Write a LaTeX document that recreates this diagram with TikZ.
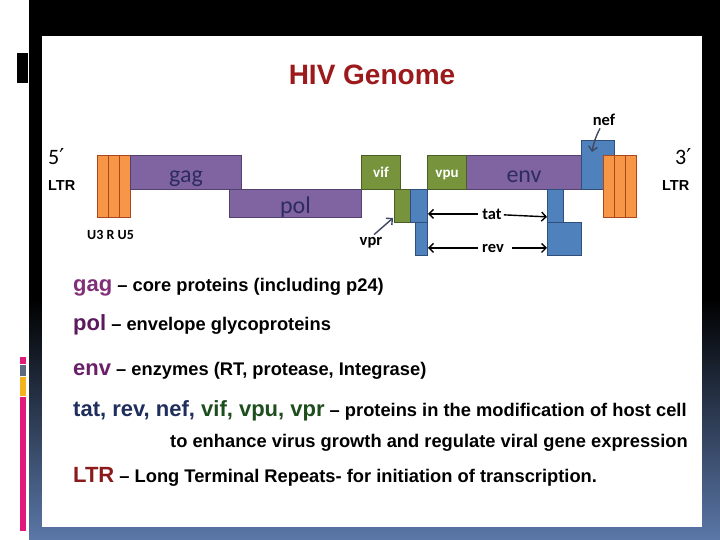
\documentclass[tikz,border=0pt]{standalone}
\usepackage{fontspec}
\setmainfont{Liberation Sans}
\newfontfamily\califont{Carlito}
\newfontfamily\primefont{DejaVu Sans}
\usetikzlibrary{arrows.meta}

\definecolor{genepurple}{HTML}{8064A2}
\definecolor{purpleedge}{HTML}{52406E}
\definecolor{genegreen}{HTML}{77933C}
\definecolor{greenedge}{HTML}{4A5E26}
\definecolor{geneblue}{HTML}{4F81BD}
\definecolor{blueedge}{HTML}{2F4F7A}
\definecolor{ltrorange}{HTML}{F79646}
\definecolor{orangeedge}{HTML}{A9471E}
\definecolor{genetext}{HTML}{2E2B63}
\definecolor{titlered}{HTML}{9C1A1C}
\definecolor{gagcol}{HTML}{80307A}
\definecolor{polcol}{HTML}{5A1A5C}
\definecolor{envcol}{HTML}{6A2068}
\definecolor{navycol}{HTML}{1F2E5C}
\definecolor{greencol}{HTML}{1E4D1E}
\definecolor{ltrcol}{HTML}{8B1A1A}
\definecolor{panelblue}{HTML}{5B78A8}
\definecolor{barpink}{HTML}{E0197B}
\definecolor{bargray}{HTML}{5A6A80}
\definecolor{baryellow}{HTML}{F5B21F}
\definecolor{pointergray}{HTML}{3E4860}

\tikzset{
  gene/.style={draw, line width=1pt, inner sep=0pt, anchor=north west},
  bigsegment/.style={gene, text=genetext, font=\califont\fontsize{24}{24}\selectfont,
    text height=20pt, text depth=0pt},
  smallsegment/.style={gene, text=white, font=\califont\bfseries\fontsize{15}{15}\selectfont,
    text height=11pt, text depth=0pt},
  purplegene/.style={bigsegment, fill=genepurple, draw=purpleedge},
  greengene/.style={smallsegment, fill=genegreen, draw=greenedge},
  bluegene/.style={gene, fill=geneblue, draw=blueedge},
  ltrstripe/.style={gene, fill=ltrorange, draw=orangeedge, minimum width=11pt, minimum height=62pt},
  endmark/.style={anchor=base west, inner sep=0pt, font=\califont\fontsize{22}{22}\selectfont},
  tag/.style={font=\califont\bfseries\fontsize{16.5}{16.5}\selectfont, inner sep=2pt},
  pointer/.style={-{Straight Barb[length=4.5pt,width=9pt]}, line width=1.4pt},
  desc/.style={anchor=base west, inner sep=0pt, font=\bfseries\fontsize{18.3}{22}\selectfont},
}

\begin{document}
\begin{tikzpicture}[x=1pt, y=-1pt]
  \useasboundingbox (0,0) rectangle (720,540);
  %--- Slide frame ---
  \fill[black] (17,53) rectangle (28,83);
  \fill[black] (29,0) rectangle (720,540);
  \shade[top color=black, bottom color=panelblue] (29,300) rectangle (720,540);
  \fill[white] (42,36) rectangle (702,527);
  % colour bars on the left
  \fill[barpink] (20,357) rectangle (26,363.5);
  \fill[bargray] (20,364.5) rectangle (26,376);
  \fill[baryellow] (20,377) rectangle (26,396);
  \fill[barpink] (20,397) rectangle (26,531);

  %--- Title ---
  \node[anchor=base, text=titlered, font=\bfseries\fontsize{28}{30}\selectfont, inner sep=0pt]
    (title) at (372,85) {HIV Genome};

  %--- Genome map ---
  % 5' LTR
  \foreach \i in {0,1,2}
    \node[ltrstripe] (ltra\i) at (97+11*\i,155) {};
  \node[endmark] (fiveend) at (48,165) {5{\primefont\fontsize{22}{22}\selectfont ′}};
  \node[anchor=base west, inner sep=0pt, font=\bfseries\fontsize{14.5}{14.5}\selectfont]
    (ltrleft) at (48,191) {LTR};
  \node[anchor=base west, inner sep=0pt, font=\califont\bfseries\fontsize{14}{14}\selectfont]
    (ltrparts) at (87,240) {U3 R U5};
  % structural genes
  \node[purplegene, minimum width=132pt, minimum height=28pt] (pol) at (229,189) {pol};
  \node[purplegene, minimum width=111pt, minimum height=34pt] (gag) at (130,155) {gag};
  \node[purplegene, minimum width=115pt, minimum height=34pt] (env) at (466,155) {env};
  % accessory genes
  \node[greengene, minimum width=39pt, minimum height=34pt] (vif) at (361,155) {vif};
  \node[greengene, minimum width=39pt, minimum height=34pt] (vpu) at (427,155) {vpu};
  \node[greengene, minimum width=16pt, minimum height=33pt] (vpr) at (394,189) {};
  % regulatory exons
  \node[bluegene, minimum width=17pt, minimum height=33pt] (tat1) at (410,189) {};
  \node[bluegene, minimum width=12pt, minimum height=33pt] (rev1) at (415,222) {};
  \node[bluegene, minimum width=16pt, minimum height=33pt] (tat2) at (547,189) {};
  \node[bluegene, minimum width=34pt, minimum height=33pt] (rev2) at (547,222) {};
  \node[bluegene, minimum width=33pt, minimum height=49pt] (nef) at (581,140) {};
  % 3' LTR
  \foreach \i in {0,1,2}
    \node[ltrstripe] (ltrb\i) at (603+11*\i,155) {};
  \node[endmark] (threeend) at (675,165) {3{\primefont\fontsize{22}{22}\selectfont ′}};
  \node[anchor=base west, inner sep=0pt, font=\bfseries\fontsize{14.5}{14.5}\selectfont]
    (ltrright) at (662,191) {LTR};

  %--- Gene tags ---
  \node[tag, anchor=base] (taglbl) at (492,219) {tat};
  \node[tag, anchor=base] (revlbl) at (493,252) {rev};
  \node[tag, anchor=base] (vprlbl) at (371,245) {vpr};
  \node[tag, anchor=base] (neflbl) at (604,126) {nef};
  \draw[pointer] ([xshift=-2pt]taglbl.west) -- (taglbl.west -| tat1.east);
  \draw[pointer] ([yshift=-1pt]taglbl.east) -- ([yshift=-3pt]taglbl.east -| tat2.west);
  \draw[pointer] ([xshift=-2pt]revlbl.west) -- (revlbl.west -| rev1.east);
  \draw[pointer] ([xshift=6pt]revlbl.east) -- (revlbl.east -| rev2.west);
  \draw[pointer, pointergray] ([xshift=3pt]vprlbl.north) -- ([shift={(-1,-5)}]vpr.south west);
  \draw[pointer, pointergray] ([xshift=-4pt]neflbl.south) to[bend right=8] ([shift={(11,12)}]nef.north west);

  %--- Legend ---
  \node[desc] (gagline) at (73,291)
    {{\color{gagcol}\fontsize{22}{26}\selectfont gag} – core proteins (including p24)};
  \node[desc] (polline) at (73,330)
    {{\color{polcol}\fontsize{22}{26}\selectfont pol} – envelope glycoproteins};
  \node[desc] (envline) at (73,375)
    {{\color{envcol}\fontsize{22}{26}\selectfont env} – enzymes (RT, protease, Integrase)};
  \node[desc] (regline) at (73,416)
    {{\fontsize{22}{26}\selectfont\color{navycol}tat, rev, nef, \color{greencol}vif, vpu, vpr} – proteins in the modification of host cell};
  \node[desc] (regline2) at (170,447)
    {to enhance virus growth and regulate viral gene expression};
  \node[desc] (ltrline) at (73,482)
    {{\color{ltrcol}\fontsize{22}{26}\selectfont LTR} – Long Terminal Repeats- for initiation of transcription.};
\end{tikzpicture}
\end{document}
